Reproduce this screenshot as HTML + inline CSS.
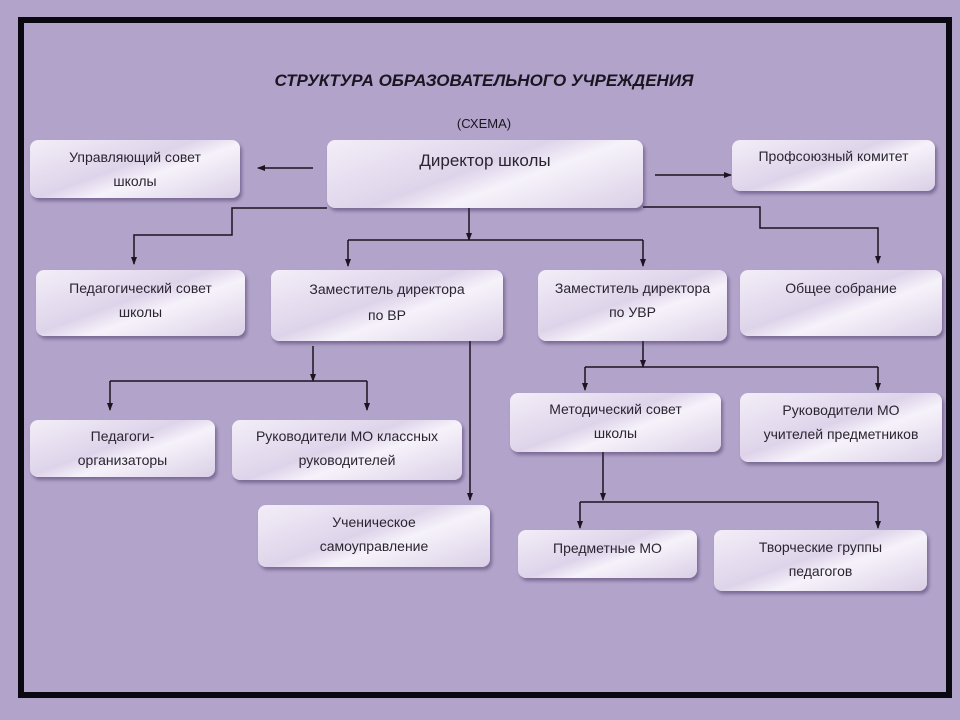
<!DOCTYPE html>
<html><head><meta charset="utf-8"><style>
html,body{margin:0;padding:0}
body{width:960px;height:720px;background:#b1a3c9;position:relative;overflow:hidden;font-family:"Liberation Sans","DejaVu Sans",sans-serif}
.frame{position:absolute;left:18px;top:17px;width:922px;height:669px;border:6px solid #0a0810}
.b{position:absolute;border-radius:8px;background:linear-gradient(160deg,#f3eef8 0%,#ded4ea 45%,#f6f2fa 60%,#d9cfe6 100%);box-shadow:2px 3px 3px rgba(60,40,90,.45);color:#2a2530;font-size:14px;line-height:24px;text-align:center;box-sizing:border-box;padding-top:6px}
.t{position:absolute;left:0;width:960px;text-align:center;color:#1a1520}
svg{position:absolute;left:0;top:0}
</style></head><body>
<div class="frame"></div>
<div class="t" style="top:71px;font-size:17px;font-weight:bold;font-style:italic;left:4px">СТРУКТУРА ОБРАЗОВАТЕЛЬНОГО УЧРЕЖДЕНИЯ</div>
<div class="t" style="top:116px;font-size:13px;left:4px">(СХЕМА)</div>
<svg width="960" height="720" viewBox="0 0 960 720">
<defs><marker id="a" markerWidth="8" markerHeight="8" refX="7" refY="4" orient="auto" markerUnits="userSpaceOnUse"><path d="M0,1 L8,4 L0,7 z" fill="#1a1520"/></marker></defs>
<g stroke="#1a1520" stroke-width="1.5" fill="none">
<line x1="313" y1="168" x2="258" y2="168" marker-end="url(#a)"/>
<line x1="655" y1="175" x2="731" y2="175" marker-end="url(#a)"/>
<polyline points="327,208 232,208 232,235 134,235 134,264" marker-end="url(#a)"/>
<polyline points="643,207 760,207 760,228 878,228 878,263" marker-end="url(#a)"/>
<line x1="469" y1="208" x2="469" y2="240" marker-end="url(#a)"/>
<line x1="348" y1="240" x2="643" y2="240"/>
<line x1="348" y1="240" x2="348" y2="266" marker-end="url(#a)"/>
<line x1="643" y1="240" x2="643" y2="266" marker-end="url(#a)"/>
<line x1="313" y1="346" x2="313" y2="381" marker-end="url(#a)"/>
<line x1="110" y1="381" x2="367" y2="381"/>
<line x1="110" y1="381" x2="110" y2="410" marker-end="url(#a)"/>
<line x1="367" y1="381" x2="367" y2="410" marker-end="url(#a)"/>
<line x1="470" y1="341" x2="470" y2="500" marker-end="url(#a)"/>
<line x1="643" y1="341" x2="643" y2="367" marker-end="url(#a)"/>
<line x1="585" y1="367" x2="878" y2="367"/>
<line x1="585" y1="367" x2="585" y2="390" marker-end="url(#a)"/>
<line x1="878" y1="367" x2="878" y2="390" marker-end="url(#a)"/>
<line x1="603" y1="452" x2="603" y2="500" marker-end="url(#a)"/>
<line x1="580" y1="502" x2="878" y2="502"/>
<line x1="580" y1="502" x2="580" y2="528" marker-end="url(#a)"/>
<line x1="878" y1="502" x2="878" y2="528" marker-end="url(#a)"/>
</g></svg>
<div class="b" style="left:30px;top:140px;width:210px;height:58px;padding-top:5px">Управляющий совет<br>школы</div>
<div class="b" style="left:327px;top:140px;width:316px;height:68px;font-size:17px;padding-top:9px">Директор школы</div>
<div class="b" style="left:732px;top:140px;width:203px;height:51px;padding-top:4px">Профсоюзный комитет</div>
<div class="b" style="left:36px;top:270px;width:209px;height:66px">Педагогический совет<br>школы</div>
<div class="b" style="left:271px;top:270px;width:232px;height:71px;line-height:26px">Заместитель директора<br>по ВР</div>
<div class="b" style="left:538px;top:270px;width:189px;height:71px">Заместитель директора<br>по УВР</div>
<div class="b" style="left:740px;top:270px;width:202px;height:66px">Общее собрание</div>
<div class="b" style="left:30px;top:420px;width:185px;height:57px;padding-top:4px">Педагоги-<br>организаторы</div>
<div class="b" style="left:232px;top:420px;width:230px;height:60px;padding-top:4px">Руководители МО классных<br>руководителей</div>
<div class="b" style="left:258px;top:505px;width:232px;height:62px;padding-top:5px">Ученическое<br>самоуправление</div>
<div class="b" style="left:510px;top:393px;width:211px;height:59px;padding-top:4px">Методический совет<br>школы</div>
<div class="b" style="left:740px;top:393px;width:202px;height:69px;padding-top:5px">Руководители МО<br>учителей предметников</div>
<div class="b" style="left:518px;top:530px;width:179px;height:48px;padding-top:6px">Предметные МО</div>
<div class="b" style="left:714px;top:530px;width:213px;height:61px;padding-top:5px">Творческие группы<br>педагогов</div>
</body></html>
